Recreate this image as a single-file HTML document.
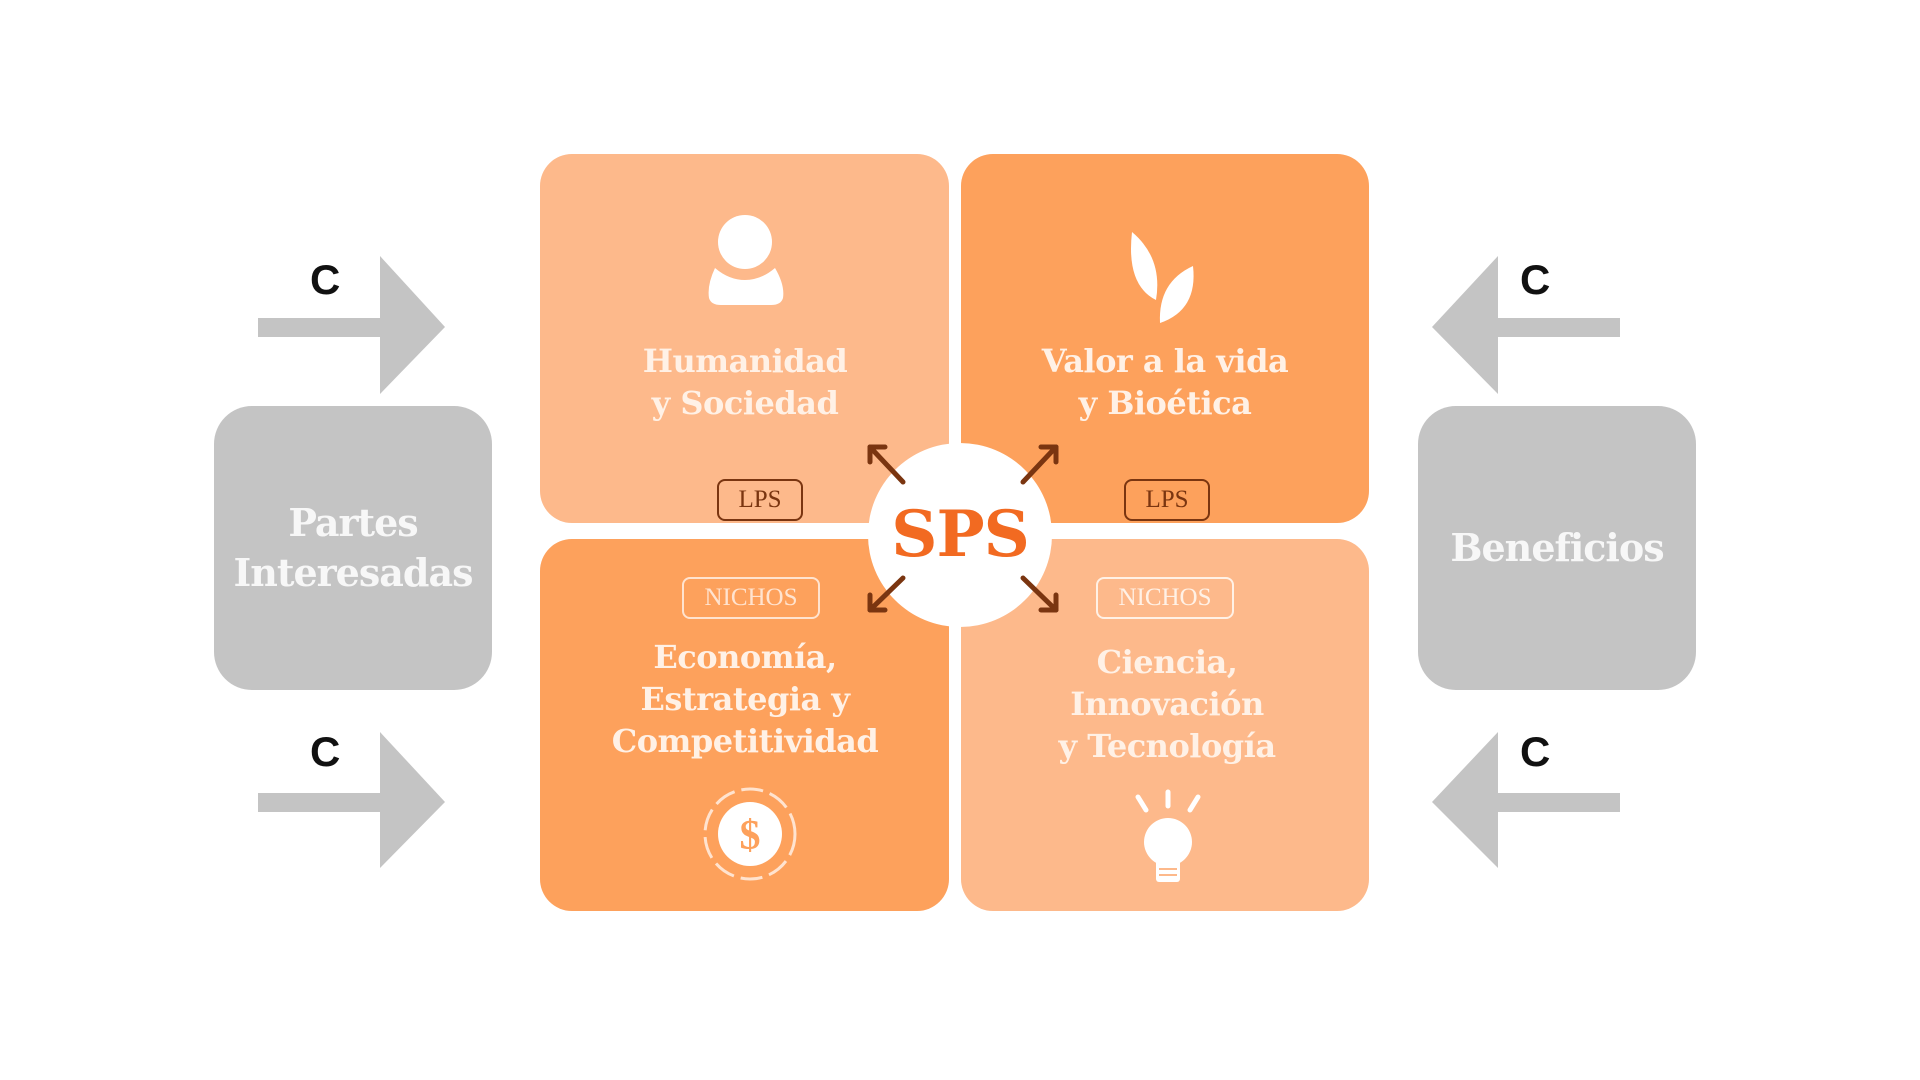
<!DOCTYPE html>
<html><head><meta charset="utf-8"><style>
html,body{margin:0;padding:0;width:1920px;height:1080px;background:#fff;overflow:hidden;font-family:"DejaVu Serif","Liberation Serif",serif;}
.abs{position:absolute}
.box{position:absolute;border-radius:32px}
.lt{background:#FDB98B}.dk{background:#FDA15C}
.gray{position:absolute;background:#C4C4C4;border-radius:38px;color:#f7f7f7;font-size:38px;font-weight:bold;display:flex;align-items:center;justify-content:center;text-align:center;line-height:50px;letter-spacing:-1px}
.t{position:absolute;color:#FFF1E6;font-size:32px;font-weight:bold;text-align:center;line-height:42px;width:400px;letter-spacing:-0.5px}
.badge{position:absolute;font-family:"Liberation Serif",serif;font-size:25px;text-align:center;border-radius:8px;box-sizing:border-box}
.c{position:absolute;font-family:"Liberation Sans",sans-serif;font-weight:bold;font-size:42px;color:#111}
</style></head><body>
<div class="box lt" style="left:540px;top:154px;width:409px;height:369px"></div>
<div class="box dk" style="left:961px;top:154px;width:408px;height:369px"></div>
<div class="box dk" style="left:540px;top:539px;width:409px;height:372px"></div>
<div class="box lt" style="left:961px;top:539px;width:408px;height:372px"></div>

<div class="gray" style="left:214px;top:406px;width:278px;height:284px">Partes<br>Interesadas</div>
<div class="gray" style="left:1418px;top:406px;width:278px;height:284px">Beneficios</div>

<svg class="abs" style="left:0;top:0" width="1920" height="1080">
<g fill="#C4C4C4">
<rect x="258" y="318" width="124" height="19"/><polygon points="380,256 445,327 380,394"/>
<rect x="258" y="793" width="124" height="19"/><polygon points="380,732 445,802 380,868"/>
<rect x="1496" y="318" width="124" height="19"/><polygon points="1498,256 1432,327 1498,394"/>
<rect x="1496" y="793" width="124" height="19"/><polygon points="1498,732 1432,802 1498,868"/>
</g>
<g fill="#fff">
<circle cx="745" cy="242" r="27"/>
<path d="M715,268 Q729,280 745,280 Q761,280 775,268 Q785,285 783,298 Q781,305 771,305 L721,305 Q711,305 709,298 Q707,285 715,268Z"/>
<path d="M1132,232 Q1163,258 1156,300 Q1126,285 1132,232Z"/>
<path d="M1193,266 Q1198,310 1160,323 Q1158,282 1193,266Z"/>
</g>
<circle cx="960" cy="535" r="92" fill="#fff"/>
<g stroke="#7A3510" stroke-width="5" fill="none" stroke-linecap="round" stroke-linejoin="round">
<line x1="903" y1="482" x2="870" y2="447"/><polyline points="870,462 870,447 885,447"/>
<line x1="1023" y1="482" x2="1056" y2="447"/><polyline points="1041,447 1056,447 1056,462"/>
<line x1="903" y1="578" x2="870" y2="610"/><polyline points="870,595 870,610 885,610"/>
<line x1="1023" y1="578" x2="1056" y2="610"/><polyline points="1056,595 1056,610 1041,610"/>
</g>
<g transform="translate(750,834)">
<circle r="45" fill="none" stroke="#FFE3CF" stroke-width="3" stroke-dasharray="22 7"/>
<circle r="32" fill="#fff"/>
</g>
<text x="750" y="849" font-family="Liberation Serif" font-weight="bold" font-size="42" fill="#FDA15C" text-anchor="middle">$</text>
<g fill="#fff">
<circle cx="1168" cy="842" r="24"/>
<rect x="1156" y="858" width="24" height="24" rx="3"/>
</g>
<g stroke="#fff" stroke-width="5" stroke-linecap="round">
<line x1="1168" y1="792" x2="1168" y2="806"/><line x1="1138" y1="797" x2="1146" y2="810"/><line x1="1198" y1="797" x2="1190" y2="810"/>
</g>
<g stroke="#FDB98B" stroke-width="2"><line x1="1159" y1="869" x2="1177" y2="869"/><line x1="1159" y1="875" x2="1177" y2="875"/></g>
</svg>

<div class="abs" style="left:860px;top:495px;width:200px;text-align:center;font-family:'DejaVu Serif',serif;font-weight:bold;font-size:64px;color:#F26A21;line-height:80px;letter-spacing:-1px">SPS</div>

<div class="t" style="left:545px;top:340px">Humanidad<br>y Sociedad</div>
<div class="t" style="left:965px;top:340px">Valor a la vida<br>y Bioética</div>
<div class="t" style="left:545px;top:636px">Economía,<br>Estrategia y<br>Competitividad</div>
<div class="t" style="left:967px;top:641px">Ciencia,<br>Innovación<br>y Tecnología</div>

<div class="badge" style="left:717px;top:479px;width:86px;height:42px;line-height:38px;border:2.5px solid #7A3510;color:#7A3510">LPS</div>
<div class="badge" style="left:1124px;top:479px;width:86px;height:42px;line-height:38px;border:2.5px solid #7A3510;color:#7A3510">LPS</div>
<div class="badge" style="left:682px;top:577px;width:138px;height:42px;line-height:38px;border:2px solid #FFE3CF;color:#FFE3CF">NICHOS</div>
<div class="badge" style="left:1096px;top:577px;width:138px;height:42px;line-height:38px;border:2px solid #FFF1E6;color:#FFF1E6">NICHOS</div>

<div class="c" style="left:310px;top:256px">C</div>
<div class="c" style="left:310px;top:728px">C</div>
<div class="c" style="left:1520px;top:256px">C</div>
<div class="c" style="left:1520px;top:728px">C</div>
</body></html>
